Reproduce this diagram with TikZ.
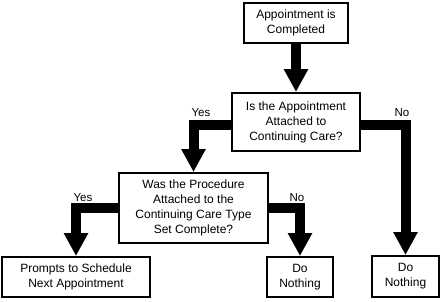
\documentclass[tikz,border=0pt]{standalone}
\usepackage{fontspec}
\setmainfont{Liberation Sans}
\usetikzlibrary{arrows.meta}
\begin{document}
\begin{tikzpicture}[x=1pt,y=-1pt,
  box/.style={draw=black,line width=2pt,inner sep=0pt,align=center,
    font=\fontsize{12}{15}\selectfont},
  bigarrow/.style={line width=10pt,line join=miter,
    -{Triangle[width=23pt,length=23pt]}},
  lbl/.style={font=\fontsize{11.5}{14}\selectfont,inner sep=0pt}]
\useasboundingbox (0,0) rectangle (441,301);
\node[box,minimum width=104pt,minimum height=40pt] (b1) at (296,23) {Appointment is\\Completed};
\node[box,minimum width=128pt,minimum height=58pt] (b2) at (296,122) {Is the Appointment\\Attached to\\Continuing Care?};
\node[box,minimum width=149pt,minimum height=70pt] (b3) at (193.5,208) {Was the Procedure\\Attached to the\\Continuing Care Type\\Set Complete?};
\node[box,minimum width=148pt,minimum height=40pt] (b4) at (76,277) {Prompts to Schedule\\Next Appointment};
\node[box,minimum width=66pt,minimum height=40pt] (b5) at (300,277) {Do\\Nothing};
\node[box,minimum width=67pt,minimum height=41pt] (b6) at (405.5,276.5) {Do\\Nothing};
\draw[bigarrow] (b1.south) -- (b2.north);
\draw[bigarrow] ([yshift=-2.5pt]b2.west) -| (b3.north);
\draw[bigarrow] ([yshift=-2.5pt]b2.east) -| (b6.north);
\draw[bigarrow] (b3.west) -| (b4.north);
\draw[bigarrow] (b3.east) -| (b5.north);
\node[lbl] (l1) at (201,113) {Yes};
\node[lbl] (l2) at (402,113) {No};
\node[lbl] (l3) at (83,198) {Yes};
\node[lbl] (l4) at (297,198) {No};
\end{tikzpicture}
\end{document}
